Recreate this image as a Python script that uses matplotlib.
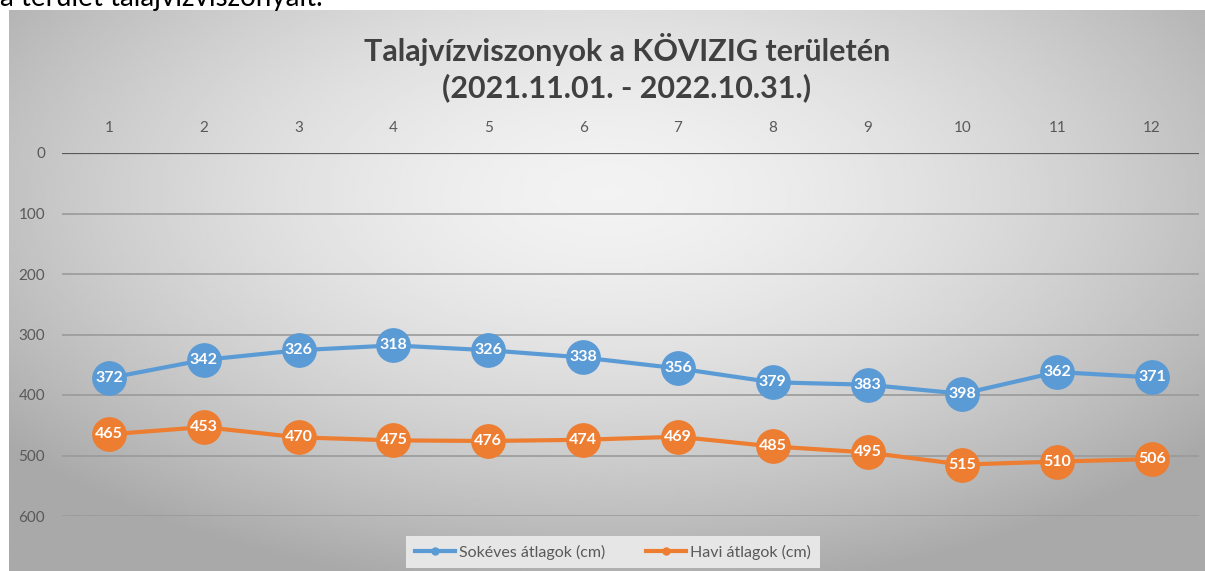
import numpy as np
import matplotlib
matplotlib.use('Agg')
import matplotlib.pyplot as plt

# Chart data
MONTHS = list(range(1, 13))
LONG_TERM = [372, 342, 326, 318, 326, 338, 356, 379, 383, 398, 362, 371]
MONTHLY = [465, 453, 470, 475, 476, 474, 469, 485, 495, 515, 510, 506]
SERIES_NAMES = ['Sokéves átlagok (cm)', 'Havi átlagok (cm)']
Y_TICKS = [0, 100, 200, 300, 400, 500, 600]
TITLE = 'Talajvízviszonyok a KÖVIZIG területén\n(2021.11.01. - 2022.10.31.)'

BLUE = '#5B9BD5'
ORANGE = '#ED7D31'
FONT = ['Lato', 'DejaVu Sans']

plt.rcParams['font.family'] = FONT

fig = plt.figure(figsize=(12.05, 5.71), dpi=100)
W, H = 1205, 571

# Clipped line of document text above the chart
fig.text(0.0, 1 - 6 / H, 'a terület talajvízviszonyait.', fontsize=20,
         color='black', va='baseline', ha='left')

# Chart area with a soft radial gradient background
bg = fig.add_axes([9 / W, 0, 1 - 9 / W, 1 - 10 / H])
xx, yy = np.meshgrid(np.linspace(-1, 1, 400), np.linspace(-1, 1, 200))
r = np.sqrt((xx * 1.0) ** 2 + ((yy + 0.35) * 0.9) ** 2)
shade = 0.95 - 0.19 * np.clip(r, 0, 1.3) ** 1.6
bg.imshow(shade, cmap='gray', vmin=0, vmax=1, aspect='auto',
          extent=[0, 1, 0, 1], origin='upper')
bg.set_axis_off()

# Plot area: months 0.5..12.5, depth axis inverted (0 on top)
ax = fig.add_axes([61.6 / W, 1 - 516 / H, (1199.4 - 61.6) / W, (516 - 153) / H])
ax.patch.set_alpha(0)
ax.set_xlim(0.5, 12.5)
ax.set_ylim(600, 0)

for t in Y_TICKS[1:]:
    ax.axhline(t, color='#9a9a9a', lw=1.2, zorder=1)
ax.axhline(0, color='#595959', lw=1.6, zorder=2)

for s in ax.spines.values():
    s.set_visible(False)

ax.xaxis.tick_top()
ax.set_xticks(MONTHS)
ax.set_xticklabels([str(m) for m in MONTHS])
ax.set_yticks(Y_TICKS)
ax.tick_params(axis='both', length=0, labelsize=11, labelcolor='#595959')
ax.tick_params(axis='x', pad=13)
ax.tick_params(axis='y', pad=12)

for values, color, name in [(LONG_TERM, BLUE, SERIES_NAMES[0]),
                            (MONTHLY, ORANGE, SERIES_NAMES[1])]:
    ax.plot(MONTHS, values, color=color, lw=3, zorder=3, label=name,
            marker='o', markersize=5)
    ax.plot(MONTHS, values, 'o', color=color, markersize=24,
            markeredgecolor=color, zorder=4)
    for m, v in zip(MONTHS, values):
        ax.text(m, v, str(v), color='white', fontsize=11.5,
                fontweight='bold', ha='center', va='center', zorder=5)

fig.text(627 / W, 1 - 68 / H, TITLE, ha='center', va='center', fontsize=22,
         fontweight='bold', color='#404040', linespacing=1.3)

leg = fig.legend(loc='center', bbox_to_anchor=(613 / W, 1 - 552 / H),
                 ncol=2, frameon=True, fontsize=11.5, handlelength=2.5,
                 columnspacing=2.5, handletextpad=0.3, borderpad=0.55)
leg.get_frame().set_facecolor('#e6e6e6')
leg.get_frame().set_edgecolor('none')
leg.get_frame().set_alpha(1)
leg.get_frame().set_boxstyle('square', pad=0)
for txt in leg.get_texts():
    txt.set_color('#595959')

fig.savefig('out.png', dpi=100)
